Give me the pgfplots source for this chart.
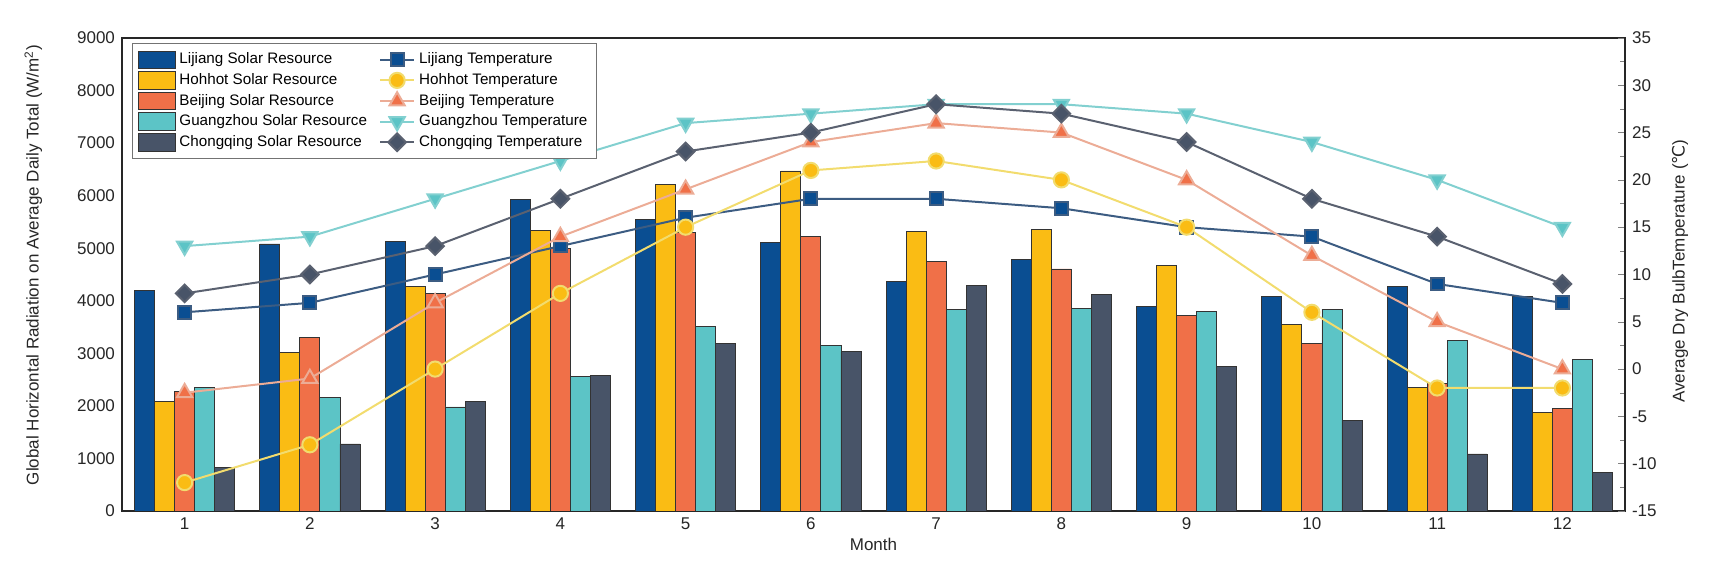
\documentclass[border=0pt]{standalone}
\usepackage{pgfplots}
\pgfplotsset{compat=1.18}
\usepackage{pgfplotstable}
\usepackage{fontspec}
\setmainfont{Liberation Sans}
\newfontfamily\djv{DejaVu Sans}
\usetikzlibrary{calc}

\definecolor{cLj}{RGB}{10,78,146}
\definecolor{cHh}{RGB}{250,188,20}
\definecolor{cBj}{RGB}{240,112,72}
\definecolor{cGz}{RGB}{92,196,198}
\definecolor{cCq}{RGB}{72,84,104}
\definecolor{lLj}{RGB}{60,92,130}
\definecolor{lHh}{RGB}{242,220,110}
\definecolor{lBj}{RGB}{236,172,150}
\definecolor{lGz}{RGB}{130,208,208}
\definecolor{lCq}{RGB}{90,97,112}

% monthly solar resource (W/m2)
\pgfplotstableread{
m Lj Hh Bj Gz Cq
1 4190 2090 2270 2345 825
2 5080 3020 3300 2160 1275
3 5120 4280 4140 1980 2085
4 5925 5335 4995 2560 2575
5 5540 6205 5300 3505 3190
6 5115 6470 5230 3145 3030
7 4375 5325 4740 3835 4295
8 4790 5360 4605 3860 4120
9 3890 4665 3725 3800 2745
10 4085 3550 3180 3840 1730
11 4265 2350 2425 3250 1085
12 4075 1870 1950 2885 735
}\solar

% monthly dry bulb temperature (C)
\pgfplotstableread{
m Lj Hh Bj Gz Cq
1 6 -12 -2.5 13 8
2 7 -8 -1 14 10
3 10 0 7 18 13
4 13 8 14 22 18
5 16 15 19 26 23
6 18 21 24 27 25
7 18 22 26 28 28
8 17 20 25 28 27
9 15 15 20 27 24
10 14 6 12 24 18
11 9 -2 5 20 14
12 7 -2 0 15 9
}\temp

\pgfplotsset{
  common/.style={
    scale only axis, width=751.5pt, height=236.5pt,
    xmin=0.5, xmax=12.5,
    axis line style={line width=0.8pt, black!85},
    tick label style={font=\fontsize{8.5}{10}\selectfont, black!85},
    label style={font=\fontsize{8.5}{10}\selectfont, black!85},
    /pgf/number format/assume math mode=true,
  },
  tline/.style={line width=1pt, mark options={line width=0.6pt, draw=white}},
}

\begin{document}
\begin{tikzpicture}
\begin{axis}[common,
  name=ax1,
  ymin=0, ymax=9000,
  ybar=0pt, bar width=0.16,
  xtick={1,...,12}, ytick={0,1000,...,9000},
  major tick length=0pt,
  xtick pos=left, ytick pos=left,
  scaled y ticks=false,
  yticklabel style={/pgf/number format/1000 sep={}},
  xlabel={Month},
  xlabel style={at={(axis description cs:0.5,-0.07)}, anchor=center},
  ylabel={Global Horizontal Radiation on Average Daily Total (W/m\textsuperscript{2})},
  ylabel style={at={(axis description cs:-0.059,0.52)}, anchor=center},
]
\addplot[fill=cLj, draw=black!80, line width=0.4pt] table[x=m, y=Lj] {\solar};
\addplot[fill=cHh, draw=black!80, line width=0.4pt] table[x=m, y=Hh] {\solar};
\addplot[fill=cBj, draw=black!80, line width=0.4pt] table[x=m, y=Bj] {\solar};
\addplot[fill=cGz, draw=black!80, line width=0.4pt] table[x=m, y=Gz] {\solar};
\addplot[fill=cCq, draw=black!80, line width=0.4pt] table[x=m, y=Cq] {\solar};
\end{axis}

\begin{axis}[common,
  ymin=-15, ymax=35,
  axis y line*=right, axis x line=none,
  ytick={-15,-10,...,35}, minor y tick num=1,
  tick align=inside, major tick length=3.5pt, minor tick length=2.5pt,
  ylabel={Average Dry BulbTemperature ({\djv ℃})},
  ylabel style={at={(axis description cs:1.0366,0.507)}, anchor=center, rotate=0},
  legend columns=2,
  legend cell align=left,
  legend style={at={(axis description cs:0.0067,0.989)}, anchor=north west,
    draw=black!55, line width=0.6pt, font=\fontsize{7.6}{9}\selectfont,
    row sep=-0.7pt, inner sep=2.5pt,
    /tikz/every even column/.append style={column sep=4pt}},
]
\addlegendimage{legend image code/.code={\draw[fill=cLj, draw=black!80, line width=0.4pt] (0pt,-4.4pt) rectangle (18.5pt,4.4pt);}}
\addlegendentry{Lijiang Solar Resource}
\addplot[tline, color=lLj, mark=square*, mark size=3.2pt, mark options={fill=cLj}] table[x=m, y=Lj] {\temp};
\addlegendentry{Lijiang Temperature}
\addlegendimage{legend image code/.code={\draw[fill=cHh, draw=black!80, line width=0.4pt] (0pt,-4.4pt) rectangle (18.5pt,4.4pt);}}
\addlegendentry{Hohhot Solar Resource}
\addplot[tline, color=lHh, mark=*, mark size=3.8pt, mark options={fill=cHh}] table[x=m, y=Hh] {\temp};
\addlegendentry{Hohhot Temperature}
\addlegendimage{legend image code/.code={\draw[fill=cBj, draw=black!80, line width=0.4pt] (0pt,-4.4pt) rectangle (18.5pt,4.4pt);}}
\addlegendentry{Beijing Solar Resource}
\addplot[tline, color=lBj, mark=triangle*, mark size=4.4pt, mark options={fill=cBj}] table[x=m, y=Bj] {\temp};
\addlegendentry{Beijing Temperature}
\addlegendimage{legend image code/.code={\draw[fill=cGz, draw=black!80, line width=0.4pt] (0pt,-4.4pt) rectangle (18.5pt,4.4pt);}}
\addlegendentry{Guangzhou Solar Resource}
\addplot[tline, color=lGz, mark=triangle*, mark size=4.4pt, mark options={fill=cGz, rotate=180}] table[x=m, y=Gz] {\temp};
\addlegendentry{Guangzhou Temperature}
\addlegendimage{legend image code/.code={\draw[fill=cCq, draw=black!80, line width=0.4pt] (0pt,-4.4pt) rectangle (18.5pt,4.4pt);}}
\addlegendentry{Chongqing Solar Resource}
\addplot[tline, color=lCq, mark=square*, mark size=3.1pt, mark options={fill=cCq, rotate=45}] table[x=m, y=Cq] {\temp};
\addlegendentry{Chongqing Temperature}
\end{axis}

\pgfresetboundingbox
\path ($(ax1.south west)+(-61pt,-25.5pt)$) rectangle ($(ax1.north east)+(50.5pt,19pt)$);
\end{tikzpicture}
\end{document}
